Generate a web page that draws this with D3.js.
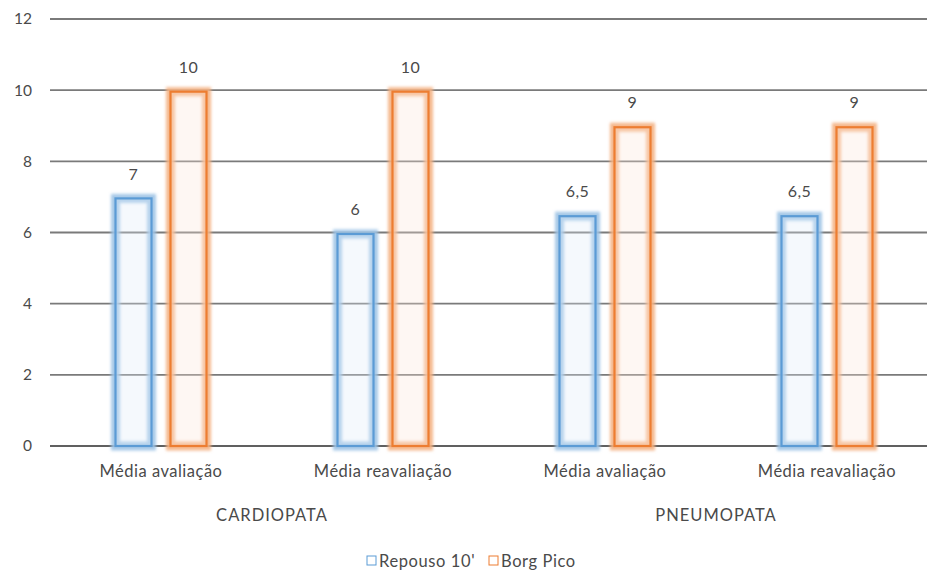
<!DOCTYPE html>
<html>
<head>
<meta charset="utf-8">
<script src="https://cdn.jsdelivr.net/npm/d3@7"></script>
<style>
  html, body { margin: 0; padding: 0; background: #fff; }
  svg text { font-family: Lato, "Open Sans", "Liberation Sans", sans-serif; fill: #4a4a4a; }
</style>
</head>
<body>
<svg id="chart" width="927" height="572"></svg>
<script>
// Grouped bar chart: Borg scale at rest and peak, per group and assessment
const groups = ["CARDIOPATA", "PNEUMOPATA"];
const categories = ["Média avaliação", "Média reavaliação", "Média avaliação", "Média reavaliação"];
const categoryGroup = [0, 0, 1, 1];
const seriesNames = ["Repouso 10'", "Borg Pico"];
const repouso = [7, 6, 6.5, 6.5];
const borgPico = [10, 10, 9, 9];
const yTicks = [0, 2, 4, 6, 8, 10, 12];

const colors = ["#5b9bd5", "#ed7d31"];
const glowColors = ["#9dc3e6", "#f4b183"];

const svg = d3.select("#chart");
const margin = { left: 50, top: 19, bottom: 126 };
const height = 572;
const plotBottom = height - margin.bottom;

const x = d3.scaleBand()
  .domain(d3.range(categories.length))
  .range([margin.left, margin.left + 888])
  .paddingInner(0).paddingOuter(0);

const y = d3.scaleLinear().domain([0, 12]).range([plotBottom, margin.top]);

const defs = svg.append("defs");
const glow = defs.append("filter").attr("id", "glow")
  .attr("x", "-50%").attr("y", "-50%").attr("width", "200%").attr("height", "200%");
glow.append("feGaussianBlur").attr("stdDeviation", 1.8);

// gridlines
svg.append("g")
  .selectAll("line")
  .data(yTicks)
  .join("line")
  .attr("x1", margin.left).attr("x2", 927)
  .attr("y1", d => y(d)).attr("y2", d => y(d))
  .attr("stroke", d => d === 0 ? "#606060" : "#7a7a7a")
  .attr("stroke-width", 1.8);

// y tick labels
svg.append("g")
  .selectAll("text")
  .data(yTicks)
  .join("text")
  .attr("x", 32).attr("y", d => y(d))
  .attr("dy", "0.35em")
  .attr("text-anchor", "end")
  .attr("font-size", 15.5)
  .text(d => d);

const barW = 40, pairW = 95;

const rows = [];
categories.forEach((c, i) => {
  [repouso[i], borgPico[i]].forEach((v, s) => rows.push({ i, s, v }));
});
const bx = d => x(d.i) + (x.bandwidth() - pairW) / 2 + (d.s === 0 ? 0 : pairW - barW) + barW / 2;

const bars = svg.append("g");
// soft halo around each bar outline
bars.selectAll("rect.halo")
  .data(rows)
  .join("rect")
  .attr("class", "halo")
  .attr("x", d => bx(d) - barW / 2 + 2)
  .attr("width", barW - 4)
  .attr("y", d => y(d.v) + 1.5)
  .attr("height", d => y(0) - y(d.v) - 1.5)
  .attr("fill", "none")
  .attr("stroke", d => glowColors[d.s])
  .attr("stroke-opacity", 0.9)
  .attr("stroke-width", 9)
  .attr("filter", "url(#glow)");
bars.selectAll("rect.bar")
  .data(rows)
  .join("rect")
  .attr("class", "bar")
  .attr("x", d => bx(d) - barW / 2 + 2)
  .attr("width", barW - 4)
  .attr("y", d => y(d.v) + 1.5)
  .attr("height", d => y(0) - y(d.v) - 1.5)
  .attr("fill", d => d.s === 0 ? "rgba(222,235,247,0.3)" : "rgba(252,228,214,0.3)")
  .attr("stroke", d => colors[d.s])
  .attr("stroke-width", 2.2);

// value labels
svg.append("g")
  .selectAll("text")
  .data(rows)
  .join("text")
  .attr("x", d => bx(d))
  .attr("y", d => y(d.v) - 23)
  .attr("dy", "0.35em")
  .attr("text-anchor", "middle")
  .attr("font-size", 16)
  .attr("letter-spacing", 0.5)
  .text(d => String(d.v).replace(".", ","));

// category labels
svg.append("g")
  .selectAll("text")
  .data(categories)
  .join("text")
  .attr("x", (d, i) => x(i) + x.bandwidth() / 2)
  .attr("y", 471)
  .attr("dy", "0.35em")
  .attr("text-anchor", "middle")
  .attr("font-size", 16.5)
  .attr("letter-spacing", 0.5)
  .text(d => d);

// group labels
svg.append("g")
  .selectAll("text")
  .data(groups)
  .join("text")
  .attr("x", (g, gi) => {
    const idx = categories.map((c, i) => i).filter(i => categoryGroup[i] === gi);
    return (x(idx[0]) + x(idx[idx.length - 1]) + x.bandwidth()) / 2;
  })
  .attr("y", 515)
  .attr("dy", "0.35em")
  .attr("text-anchor", "middle")
  .attr("font-size", 16.5)
  .attr("letter-spacing", 1)
  .text(d => d);

// legend
const legendX = [367, 489];
const legend = svg.append("g");
seriesNames.forEach((name, s) => {
  legend.append("rect")
    .attr("x", legendX[s]).attr("y", 556)
    .attr("width", 9).attr("height", 9)
    .attr("fill", "#fff")
    .attr("stroke", colors[s]).attr("stroke-width", 1);
  legend.append("text")
    .attr("x", legendX[s] + 12).attr("y", 561)
    .attr("dy", "0.35em")
    .attr("font-size", 16.5)
    .attr("letter-spacing", 0.6)
    .text(name);
});
</script>
</body>
</html>
